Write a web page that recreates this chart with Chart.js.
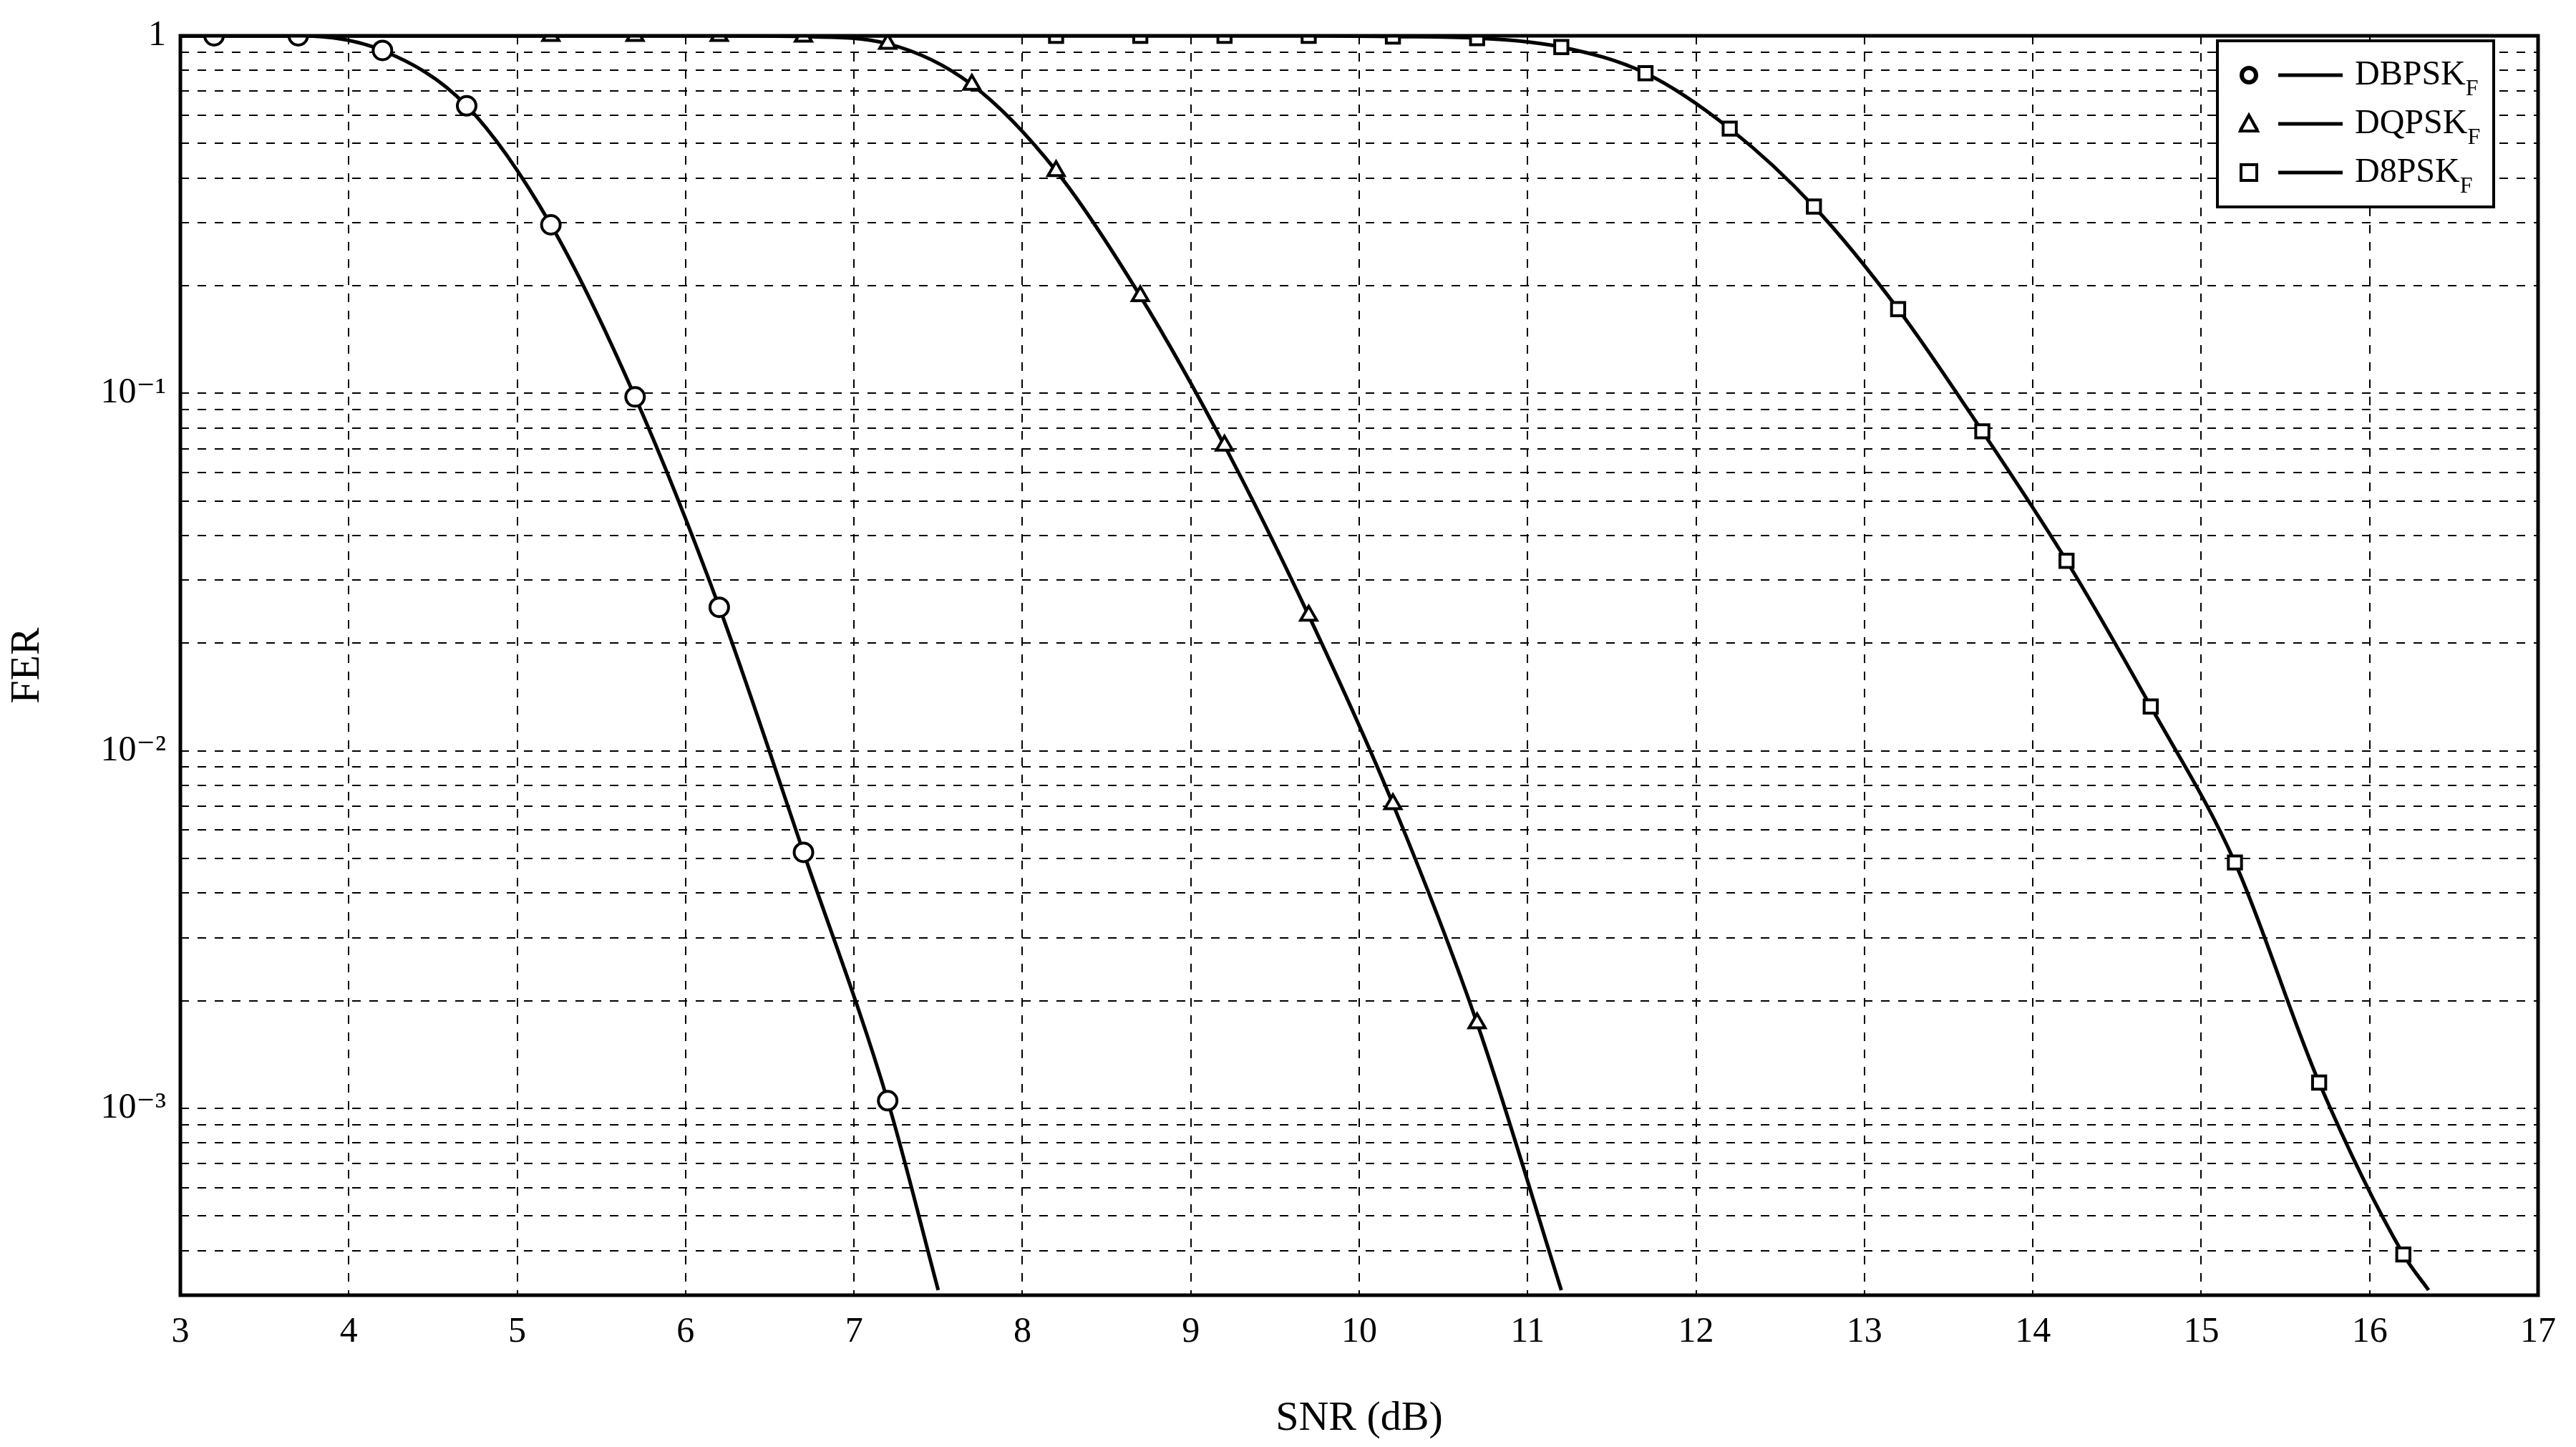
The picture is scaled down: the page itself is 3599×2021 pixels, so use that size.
<!DOCTYPE html>
<html>
<head>
<meta charset="utf-8">
<script src="https://cdn.jsdelivr.net/npm/chart.js@4/dist/chart.umd.min.js"></script>
<style>
  html, body { margin: 0; padding: 0; background: #fff; }
  #wrap { width: 3599px; height: 2021px; }
</style>
</head>
<body>
<div id="wrap"><canvas id="FerChart" width="3599" height="2021"></canvas></div>
<script>
// SNR (dB) / FER; last point of each curve has no marker
var snrBpsk = [3, 3.2, 3.7, 4.2, 4.7, 5.2, 5.7, 6.2, 6.7, 7.2, 7.5];
var ferBpsk = [1, 1, 1, 0.91, 0.637, 0.296, 0.0977, 0.0252, 0.0052, 0.00105, 0.00031];
var snrQpsk = [3, 5.2, 5.7, 6.2, 6.7, 7.2, 7.7, 8.2, 8.7, 9.2, 9.7, 10.2, 10.7, 11.2];
var ferQpsk = [1, 1, 1, 1, 0.995, 0.95, 0.73, 0.419, 0.187, 0.0714, 0.0239, 0.0071, 0.00173, 0.00031];
var snr8psk = [3, 8.2, 8.7, 9.2, 9.7, 10.2, 10.7, 11.2, 11.7, 12.2, 12.7, 13.2, 13.7, 14.2, 14.7, 15.2, 15.7, 16.2, 16.35];
var fer8psk = [1, 1, 1, 1, 1, 0.995, 0.985, 0.93, 0.786, 0.55, 0.333, 0.172, 0.0783, 0.034, 0.0133, 0.00487, 0.00118, 0.00039, 0.00031];
var seriesNames = ['DBPSK', 'DQPSK', 'D8PSK'];
var xTicks = [3, 4, 5, 6, 7, 8, 9, 10, 11, 12, 13, 14, 15, 16, 17];
var yDecades = [1, 0.1, 0.01, 0.001];
var yLabels = ['1', '10⁻¹', '10⁻²', '10⁻³'];

var serif = '"Liberation Serif", "DejaVu Serif", serif';

function pts(xs, ys) {
    return xs.map(function (x, i) { return { x: x, y: ys[i] }; });
}
function radii(n) {
    var r = [];
    for (var i = 0; i < n; i++) r.push(i === 0 || i === n - 1 ? 0 : 13);
    return r;
}
function series(label, xs, ys, style) {
    return {
        label: label,
        data: pts(xs, ys),
        borderColor: '#000',
        borderWidth: 5,
        backgroundColor: '#fff',
        pointStyle: style,
        pointRadius: radii(xs.length),
        pointBorderWidth: 4,
        pointBorderColor: '#000',
        pointBackgroundColor: '#fff',
        cubicInterpolationMode: 'monotone',
        fill: false
    };
}

var yMinor = [];
[0.0001, 0.001, 0.01, 0.1].forEach(function (d) {
    for (var k = 1; k <= 10; k++) {
        var v = +(d * k).toPrecision(3);
        if (v >= 0.00031 && v <= 1 && yMinor.indexOf(v) < 0) yMinor.push(v);
    }
});

var frameAndLegend = {
    id: 'frameAndLegend',
    afterDatasetsDraw: function (chart) {
        var c = chart.ctx, a = chart.chartArea;
        c.save();
        c.strokeStyle = '#000';
        c.lineWidth = 5;
        c.strokeRect(a.left, a.top, a.right - a.left, a.bottom - a.top);
        // legend box
        var bx = 3098, by = 57, bw = 386, bh = 232;
        c.fillStyle = '#fff';
        c.fillRect(bx, by, bw, bh);
        c.lineWidth = 4;
        c.strokeRect(bx, by, bw, bh);
        var styles = ['circle', 'triangle', 'rect'];
        for (var i = 0; i < 3; i++) {
            var yy = by + 48 + i * 68;
            Chart.helpers.drawPoint(c, { pointStyle: styles[i], radius: 11, borderWidth: 4 }, bx + 44, yy);
            c.fillStyle = '#fff';
            c.strokeStyle = '#000';
            c.lineWidth = 4;
            c.beginPath();
            if (styles[i] === 'circle') c.arc(bx + 44, yy, 9, 0, Math.PI * 2);
            else if (styles[i] === 'triangle') { c.moveTo(bx + 44, yy - 12); c.lineTo(bx + 56, yy + 10); c.lineTo(bx + 32, yy + 10); c.closePath(); }
            else c.rect(bx + 33, yy - 11, 22, 22);
            c.fill(); c.stroke();
            c.lineWidth = 5;
            c.beginPath(); c.moveTo(bx + 85, yy); c.lineTo(bx + 175, yy); c.stroke();
            c.fillStyle = '#000';
            c.textBaseline = 'middle';
            c.textAlign = 'left';
            c.font = '48px ' + serif;
            c.fillText(seriesNames[i], bx + 192, yy);
            var w = c.measureText(seriesNames[i]).width;
            c.font = '32px ' + serif;
            c.fillText('F', bx + 192 + w, yy + 20);
        }
        c.restore();
    }
};

new Chart(document.getElementById('FerChart'), {
    type: 'line',
    data: {
        datasets: [
            series('DBPSK', snrBpsk, ferBpsk, 'circle'),
            series('DQPSK', snrQpsk, ferQpsk, 'triangle'),
            series('D8PSK', snr8psk, fer8psk, 'rect')
        ]
    },
    plugins: [frameAndLegend],
    options: {
        responsive: false,
        animation: false,
        devicePixelRatio: 1,
        layout: { padding: { left: 0, top: 41, right: 53, bottom: 0 } },
        plugins: { legend: { display: false }, tooltip: { enabled: false } },
        scales: {
            x: {
                type: 'linear',
                min: 3, max: 17,
                afterBuildTicks: function (s) { s.ticks = xTicks.map(function (v) { return { value: v }; }); },
                afterFit: function (s) { s.height = 212; },
                ticks: { color: '#000', font: { family: serif, size: 50 }, padding: 22 },
                grid: { color: '#000', lineWidth: 2, drawTicks: false, tickBorderDash: [10, 10] },
                border: { display: false, dash: [12, 12] },
                title: { display: true, text: 'SNR (dB)', color: '#000', font: { family: serif, size: 58 }, padding: { top: 10 } }
            },
            y: {
                type: 'logarithmic',
                min: 0.00031, max: 1,
                afterBuildTicks: function (s) { s.ticks = yMinor.map(function (v) { return { value: v }; }); },
                afterFit: function (s) { s.width = 252; },
                ticks: {
                    color: '#000', font: { family: serif, size: 50 }, padding: 20, autoSkip: false,
                    callback: function (v) {
                        for (var i = 0; i < yDecades.length; i++) if (Math.abs(v - yDecades[i]) < yDecades[i] * 1e-6) return yLabels[i];
                        return '';
                    }
                },
                grid: { color: '#000', lineWidth: 2, drawTicks: false },
                border: { display: false, dash: [12, 12] },
                title: { display: true, text: 'FER', color: '#000', font: { family: serif, size: 58 }, padding: { bottom: 10 } }
            }
        }
    }
});
// dashed grid
Chart.defaults.scale.grid.borderDash = [12, 12];
</script>
</body>
</html>
